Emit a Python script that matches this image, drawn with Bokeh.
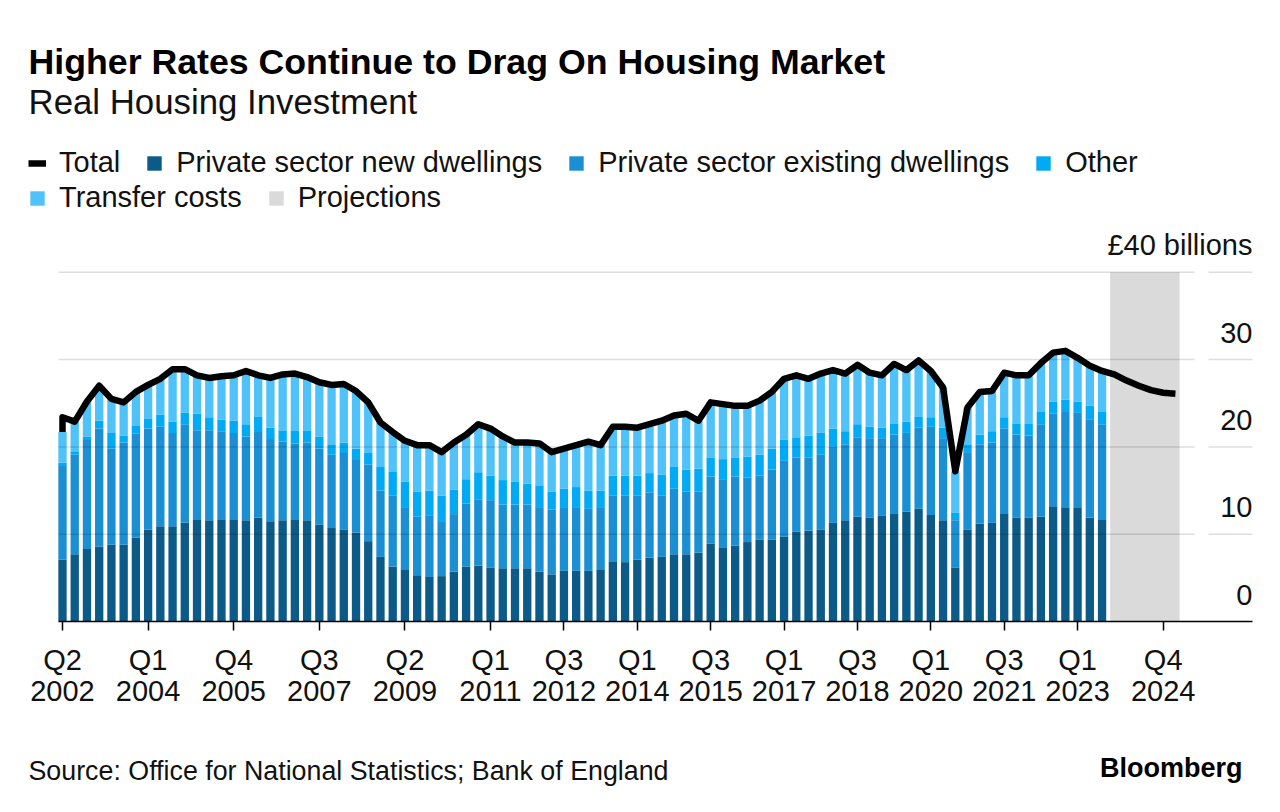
from bokeh.plotting import figure
from bokeh.models import ColumnDataSource, FixedTicker, Label, Legend, LegendItem, LinearAxis
from bokeh.embed import file_html
from bokeh.resources import INLINE
from bokeh.core.properties import value

# ---------------- data (GBP billions, quarterly, from Q2 2002) ----------------
START_YEAR, START_Q = 2002, 2

new_dwellings = [7.1, 7.7, 8.3, 8.6, 8.8, 8.8, 9.6, 10.5, 10.9, 10.9, 11.3, 11.7, 11.6, 11.7, 11.7, 11.6,
                 11.9, 11.4, 11.6, 11.7, 11.6, 11.1, 10.7, 10.5, 10.2, 9.2, 7.4, 6.3, 5.9, 5.3, 5.1, 5.2,
                 5.7, 6.3, 6.4, 6.2, 6.1, 6.1, 6.1, 5.7, 5.4, 5.8, 5.8, 5.8, 5.9, 6.9, 6.8, 7.1,
                 7.3, 7.4, 7.7, 7.7, 7.9, 8.9, 8.5, 8.7, 9.1, 9.4, 9.4, 9.7, 10.3, 10.4, 10.5, 11.3,
                 11.6, 12.0, 11.9, 12.1, 12.3, 12.6, 12.9, 12.2, 11.6, 6.2, 10.5, 11.2, 11.3, 12.4, 11.9, 11.9,
                 12.0, 13.2, 13.1, 13.0, 11.9, 11.7]
existing_dwellings = [10.7, 11.4, 12.5, 13.5, 11.0, 11.7, 11.9, 11.6, 11.4, 10.7, 11.3, 10.2, 10.3, 10.1, 9.9, 9.6,
                      9.8, 9.5, 9.0, 8.7, 8.9, 8.7, 8.4, 8.8, 8.3, 8.8, 7.6, 8.1, 7.2, 6.7, 7.0, 6.3,
                      6.6, 7.2, 7.6, 7.7, 7.3, 7.3, 7.3, 7.4, 7.4, 7.3, 7.3, 7.1, 7.2, 7.5, 7.6, 7.3,
                      7.5, 7.0, 7.5, 7.2, 7.0, 7.7, 7.8, 7.9, 7.4, 7.3, 8.0, 8.7, 8.5, 8.4, 8.6, 8.7,
                      8.7, 9.1, 9.1, 8.9, 9.1, 9.0, 9.3, 10.1, 9.4, 5.4, 8.9, 9.1, 9.2, 9.7, 9.5, 9.4,
                      10.6, 10.6, 10.9, 10.9, 11.2, 10.9]
other = [0.4, 0.4, 0.4, 0.9, 1.8, 0.8, 0.9, 1.1, 1.4, 1.3, 1.3, 1.9, 1.5, 1.3, 1.4, 1.4,
         1.8, 1.3, 1.3, 1.5, 1.4, 1.4, 1.2, 1.2, 1.3, 1.3, 2.7, 2.8, 2.9, 2.9, 2.9, 2.9,
         2.8, 2.8, 3.1, 2.8, 2.8, 2.6, 2.4, 2.5, 2.1, 2.1, 2.3, 2.1, 1.9, 2.3, 2.3, 2.3,
         2.2, 2.4, 2.5, 2.5, 2.6, 2.2, 2.3, 2.2, 2.4, 2.4, 2.4, 2.4, 2.3, 2.5, 2.5, 2.1,
         1.5, 1.5, 1.3, 1.2, 1.3, 1.3, 1.3, 1.1, 1.2, 0.9, 0.9, 1.1, 1.3, 1.3, 1.3, 1.4,
         1.4, 1.4, 1.4, 1.3, 1.6, 1.4]
transfer_costs = [3.5, 3.4, 4.0, 4.0, 3.9, 3.8, 3.9, 3.9, 4.1, 6.0, 5.0, 4.4, 4.5, 5.0, 5.2, 6.1,
                  4.7, 5.7, 6.4, 6.5, 6.1, 6.2, 6.8, 6.7, 6.6, 5.8, 5.1, 4.5, 4.7, 5.3, 5.2, 5.0,
                  5.4, 5.1, 5.5, 5.4, 5.0, 4.5, 4.7, 4.8, 4.5, 4.6, 4.8, 5.6, 5.2, 5.6, 5.6, 5.5,
                  5.6, 6.2, 5.9, 6.4, 5.5, 6.3, 6.3, 5.9, 5.8, 6.2, 6.5, 7.0, 7.1, 6.5, 6.8, 6.7,
                  6.6, 6.8, 6.2, 6.0, 6.8, 5.9, 6.4, 5.3, 4.6, 4.7, 4.2, 4.9, 4.6, 5.1, 5.5, 5.5,
                  5.6, 5.6, 5.6, 5.0, 4.6, 4.7]
# Total line: Q2 2002 .. Q1 2025 (Q4 2023 onwards are projections)
total = [23.4, 22.9, 25.2, 27.0, 25.5, 25.1, 26.3, 27.1, 27.8, 28.9, 28.9, 28.2, 27.9, 28.1, 28.2, 28.7,
         28.2, 27.9, 28.3, 28.4, 28.0, 27.4, 27.1, 27.2, 26.4, 25.1, 22.8, 21.7, 20.7, 20.2, 20.2, 19.4,
         20.5, 21.4, 22.6, 22.1, 21.2, 20.5, 20.5, 20.4, 19.4, 19.8, 20.2, 20.6, 20.2, 22.3, 22.3, 22.2,
         22.6, 23.0, 23.6, 23.8, 23.0, 25.1, 24.9, 24.7, 24.7, 25.3, 26.3, 27.8, 28.2, 27.8, 28.4, 28.8,
         28.4, 29.4, 28.5, 28.2, 29.5, 28.8, 29.9, 28.7, 26.8, 17.2, 24.5, 26.3, 26.4, 28.5, 28.2, 28.2,
         29.6, 30.8, 31.0, 30.2, 29.3, 28.7, 28.3, 27.6, 27.0, 26.5, 26.2, 26.1]
projection_quarters = ["Q4 2023", "Q1 2024", "Q2 2024", "Q3 2024", "Q4 2024", "Q1 2025"]
tick_labels = ["Q2 2002", "Q1 2004", "Q4 2005", "Q3 2007", "Q2 2009", "Q1 2011", "Q3 2012", "Q1 2014",
               "Q3 2015", "Q1 2017", "Q3 2018", "Q1 2020", "Q3 2021", "Q1 2023", "Q4 2024"]
y_ticks = [0, 10, 20, 30, 40]
y_tick_labels = ["0", "10", "20", "30", "£40 billions"]

series_names = ["Private sector new dwellings", "Private sector existing dwellings", "Other", "Transfer costs"]
colors = ["#0b5a87", "#1a8fd4", "#02aaf6", "#4fc2fa"]

# ---------------- helpers ----------------
quarters = []
for i in range(len(total)):
    q = START_Q - 1 + i
    quarters.append(f"Q{q % 4 + 1} {START_YEAR + q // 4}")
xs = list(range(len(new_dwellings)))

FONT = value("Liberation Sans")
BAR_W = 0.68
W, H = 1280, 812
PX_PER_Q = 12.23          # horizontal pixels per quarter
PX_PER_UNIT = 8.73        # vertical pixels per GBP bn
X_ORIGIN_PX, Y_ORIGIN_PX = 62, 621   # page position of first quarter / of zero

def dx(page_x):
    return (page_x - X_ORIGIN_PX) / PX_PER_Q
def dy(page_y):
    return (Y_ORIGIN_PX - page_y) / PX_PER_UNIT

X0, X1 = dx(0), dx(W)
Y0, Y1 = dy(H), dy(0)
PLOT_LEFT, PLOT_RIGHT = dx(58), dx(1252)
GRID_BREAK = (dx(1194), dx(1208))

p = figure(width=W, height=H, output_backend="svg", toolbar_location=None,
           x_range=(X0, X1), y_range=(Y0, Y1), x_axis_location=None, y_axis_location=None,
           min_border_left=0, min_border_right=0, min_border_top=0, min_border_bottom=0)
p.outline_line_color = None
p.xgrid.visible = False
p.ygrid.visible = False
p.background_fill_color = "white"
p.border_fill_color = "white"

# projections shading
proj_idx = [quarters.index(q) for q in projection_quarters]
proj_r = p.quad(left=[proj_idx[0] - BAR_W / 2], right=[proj_idx[-1] + BAR_W / 2], bottom=[0], top=[y_ticks[-1]],
                fill_color="#dadada", line_color=None)

# stacked bars
src = ColumnDataSource(dict(x=xs, new=new_dwellings, existing=existing_dwellings,
                            other=other, transfer=transfer_costs))
bars = p.vbar_stack(["new", "existing", "other", "transfer"], x="x", width=BAR_W, source=src,
                    fill_color=colors, line_color=None)

# gridlines (split around the label column like the original)
grid_vals = y_ticks[1:]
n = len(grid_vals)
p.segment(x0=[PLOT_LEFT] * n, x1=[GRID_BREAK[0]] * n, y0=grid_vals, y1=grid_vals,
          line_color="black", line_alpha=0.13, line_width=1.5)
p.segment(x0=[GRID_BREAK[1]] * n, x1=[PLOT_RIGHT] * n, y0=grid_vals, y1=grid_vals,
          line_color="black", line_alpha=0.13, line_width=1.5)

# total line
bar0_top = new_dwellings[0] + existing_dwellings[0] + other[0] + transfer_costs[0]
line_x = [0] + list(range(len(total)))
line_y = [bar0_top] + total
line_r = p.line(line_x, line_y, line_color="black", line_width=6.5, line_join="round", line_cap="butt")

# y labels (above gridlines, right aligned)
p.text(x=[PLOT_RIGHT] * len(y_ticks), y=y_ticks, text=y_tick_labels, text_align="right",
       text_baseline="alphabetic", y_offset=-27, text_font=FONT, text_font_size="29px", text_color="#111111")

# x axis drawn at y = 0 inside the frame
tick_idx = [quarters.index(t) for t in tick_labels]
xaxis = LinearAxis(fixed_location=0, bounds=(PLOT_LEFT, PLOT_RIGHT), ticker=FixedTicker(ticks=tick_idx))
xaxis.major_label_overrides = {i: t.replace(" ", "\n") for i, t in zip(tick_idx, tick_labels)}
xaxis.axis_line_color = "black"
xaxis.axis_line_width = 1.5
xaxis.major_tick_line_color = "black"
xaxis.major_tick_line_width = 1.5
xaxis.major_tick_in = 0
xaxis.major_tick_out = 9
xaxis.minor_tick_line_color = None
xaxis.major_label_text_font = "Liberation Sans"
xaxis.major_label_text_font_size = "29px"
xaxis.major_label_text_color = "#111111"
xaxis.major_label_text_line_height = 0.97
xaxis.major_label_standoff = 13
p.add_layout(xaxis, "below")

# legends (two rows)
common = dict(orientation="horizontal", glyph_width=18, glyph_height=18, label_standoff=13, spacing=25,
              padding=0, margin=0, border_line_color=None, background_fill_alpha=0,
              label_text_font="Liberation Sans", label_text_font_size="29px", label_text_color="#111111")
leg1 = Legend(items=[LegendItem(label="Total", renderers=[line_r])] +
              [LegendItem(label=series_names[k], renderers=[bars[k]]) for k in range(3)],
              location=(28, H - 179), **common)
leg2 = Legend(items=[LegendItem(label=series_names[3], renderers=[bars[3]]),
                     LegendItem(label="Projections", renderers=[proj_r])],
              location=(28, H - 214), **common)
p.add_layout(leg1)
p.add_layout(leg2)

# titles and footer
p.add_layout(Label(x=dx(28), y=dy(61), text="Higher Rates Continue to Drag On Housing Market",
                   text_font="Liberation Sans", text_font_size="35.7px", text_font_style="bold",
                   text_color="black", text_baseline="alphabetic"))
p.add_layout(Label(x=dx(28), y=dy(101), text="Real Housing Investment",
                   text_font="Liberation Sans", text_font_size="34.8px", text_color="#111111",
                   text_baseline="alphabetic"))
p.add_layout(Label(x=dx(28), y=dy(770), text="Source: Office for National Statistics; Bank of England",
                   text_font="Liberation Sans", text_font_size="26.8px", text_color="#111111",
                   text_baseline="alphabetic"))
p.add_layout(Label(x=dx(1242), y=dy(767), text="Bloomberg", text_align="right",
                   text_font="Liberation Sans", text_font_size="27px", text_font_style="bold",
                   text_color="black", text_baseline="alphabetic"))

open("out.html", "w").write(file_html(p, INLINE))
